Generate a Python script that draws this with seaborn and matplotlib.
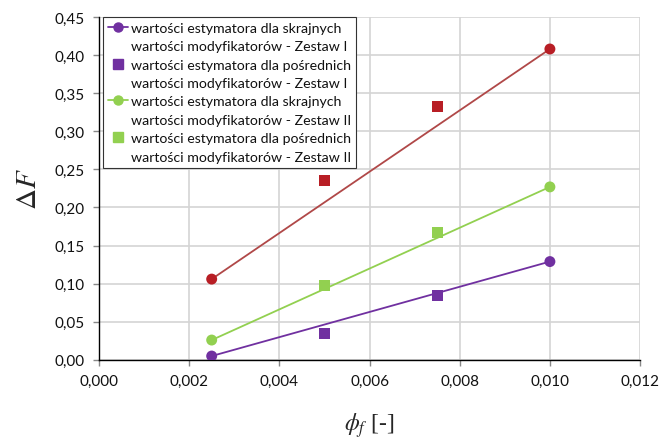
import matplotlib
matplotlib.use("Agg")
import matplotlib.pyplot as plt
from matplotlib.lines import Line2D
from matplotlib.ticker import FuncFormatter, MultipleLocator
import pandas as pd
import seaborn as sns

# Volume fraction of fibres and estimator values
phi_ext = [0.0025, 0.010]
phi_mid = [0.005, 0.0075]

red_ext = [0.106, 0.408]
red_mid = [0.236, 0.333]
purple_ext = [0.005, 0.129]
purple_mid = [0.035, 0.084]
green_ext = [0.026, 0.227]
green_mid = [0.097, 0.167]

legend_labels = [
    "wartości estymatora dla skrajnych\nwartości modyfikatorów - Zestaw I",
    "wartości estymatora dla pośrednich\nwartości modyfikatorów - Zestaw I",
    "wartości estymatora dla skrajnych\nwartości modyfikatorów - Zestaw II",
    "wartości estymatora dla pośrednich\nwartości modyfikatorów - Zestaw II",
]

sns.set_theme(style="white")
plt.rcParams["font.family"] = ["Lato", "DejaVu Sans"]
plt.rcParams["mathtext.fontset"] = "stix"

PURPLE = "#7030a0"
GREEN = "#92d050"
RED = "#b81e25"
RED_LINE = "#b04848"

fig = plt.figure(figsize=(6.64, 4.39), dpi=100)
ax = fig.add_axes([0.149, 0.178, 0.815, 0.781])

series = [
    (red_ext, red_mid, RED, RED_LINE),
    (green_ext, green_mid, GREEN, GREEN),
    (purple_ext, purple_mid, PURPLE, PURPLE),
]
for ext, mid, mcol, lcol in series:
    d_ext = pd.DataFrame({"phi": phi_ext, "dF": ext})
    d_mid = pd.DataFrame({"phi": phi_mid, "dF": mid})
    sns.lineplot(data=d_ext, x="phi", y="dF", ax=ax, color=lcol, lw=1.3,
                 zorder=3, legend=False)
    sns.scatterplot(data=d_ext, x="phi", y="dF", ax=ax, color=mcol, s=62,
                    marker="o", edgecolor="none", zorder=4, legend=False)
    sns.scatterplot(data=d_mid, x="phi", y="dF", ax=ax, color=mcol, s=62,
                    marker="s", edgecolor="none", zorder=4, legend=False)

ax.set_xlim(0, 0.012)
ax.set_ylim(0, 0.45)
ax.xaxis.set_major_locator(MultipleLocator(0.002))
ax.yaxis.set_major_locator(MultipleLocator(0.05))
ax.xaxis.set_major_formatter(FuncFormatter(lambda v, p: f"{v:.3f}".replace(".", ",")))
ax.yaxis.set_major_formatter(FuncFormatter(lambda v, p: f"{v:.2f}".replace(".", ",")))

ax.grid(True, color="#d4d4d4", lw=1.2)
ax.set_axisbelow(True)
for side in ("top", "right"):
    ax.spines[side].set_visible(False)
for side in ("left", "bottom"):
    ax.spines[side].set_color("black")
    ax.spines[side].set_linewidth(1.0)
ax.tick_params(axis="both", which="major", direction="out", length=4,
               width=1, color="#888888", labelsize=11, labelcolor="#111111",
               bottom=True, left=True, pad=6)

ax.set_xlabel(r"$\phi_f$ [-]", fontsize=17, labelpad=16,
              family=["Liberation Serif", "DejaVu Sans"])
ax.set_ylabel(r"$\Delta F$", fontsize=21, labelpad=10)

# Each legend entry wraps over two rows; the symbol sits on the first row.
styles = [(PURPLE, "o", 1.3), (PURPLE, "s", 0), (GREEN, "o", 1.3), (GREEN, "s", 0)]
handles, labels = [], []
for (col, mk, lw), lab in zip(styles, legend_labels):
    first, second = lab.split("\n")
    handles.append(Line2D([], [], color=col, marker=mk, markersize=6.5, lw=lw))
    labels.append(first)
    handles.append(Line2D([], [], color="none", marker=None, lw=0))
    labels.append(second)

leg = ax.legend(handles, labels, loc="upper left",
                bbox_to_anchor=(0.007, 1.0), fontsize=10.2, frameon=True,
                fancybox=False, edgecolor="#333333", framealpha=1,
                handlelength=1.45, handletextpad=0.2, labelspacing=0.45,
                borderpad=0.35, borderaxespad=0.0)
leg.get_frame().set_linewidth(0.8)
for t in leg.get_texts():
    t.set_color("#111111")

fig.savefig("out.png", dpi=100)
